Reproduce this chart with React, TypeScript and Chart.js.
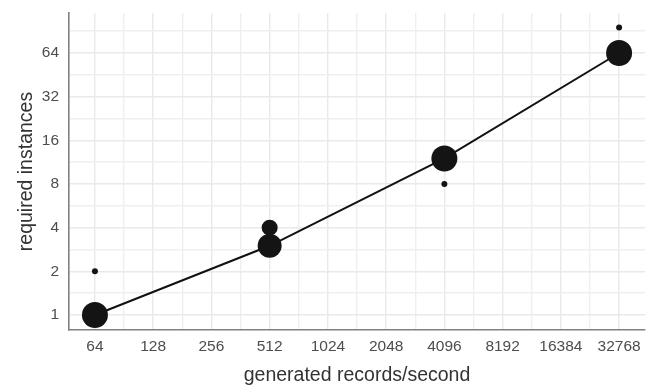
import React, { useEffect, useRef } from "react";
import { Chart, registerables } from "chart.js";

Chart.register(...registerables);

const xRates = [64, 64, 512, 512, 4096, 4096, 32768, 32768];
const yInstances = [1, 2, 3, 4, 12, 8, 64, 96];
const pointSizes = [13, 3, 12, 8, 13, 3, 13, 3];

const lineRates = [64, 512, 4096, 32768];
const lineInstances = [1, 3, 12, 64];

const xTickLabels = [64, 128, 256, 512, 1024, 2048, 4096, 8192, 16384, 32768];
const yTickLabels = [1, 2, 4, 8, 16, 32, 64];

const X_MIN = 47;
const X_MAX = 44600;
const Y_MIN = 0.788;
const Y_MAX = 120.8;

function buildTicks(majors: number[], min: number, max: number) {
  const out: { value: number; major: boolean }[] = [];
  const first = majors[0] / 2;
  for (let k = 0; k <= (majors.length + 2) * 2; k++) {
    const v = first * Math.pow(2, k / 2);
    if (v < min || v > max) continue;
    out.push({ value: v, major: k % 2 === 0 });
  }
  return out;
}

const isMajor = (v: number) => Math.abs(Math.log2(v) - Math.round(Math.log2(v))) < 1e-6;

export default function App() {
  const ref = useRef<HTMLCanvasElement | null>(null);
  useEffect(() => {
    document.body.style.margin = "0";
    const ctx = ref.current!.getContext("2d")!;
    const font = "'Liberation Sans', Arial, sans-serif";
    const gridColor = (c: any) => (c.tick && isMajor(c.tick.value) ? "#e9e9e9" : "#efefef");
    const chart = new Chart(ctx, {
      type: "bubble",
      data: {
        datasets: [
          {
            type: "line",
            data: lineRates.map((x, i) => ({ x, y: lineInstances[i] })),
            borderColor: "#111111",
            borderWidth: 2,
            pointRadius: 0,
            fill: false,
            clip: false,
            order: 2,
          } as any,
          {
            type: "bubble",
            data: xRates.map((x, i) => ({ x, y: yInstances[i], r: pointSizes[i] })),
            backgroundColor: "#141414",
            borderColor: "#141414",
            borderWidth: 0,
            clip: false,
            order: 1,
          },
        ],
      },
      options: {
        animation: false,
        responsive: false,
        maintainAspectRatio: false,
        layout: { autoPadding: false, padding: { top: 13, right: 4, left: 0, bottom: 0 } },
        plugins: { legend: { display: false }, tooltip: { enabled: false } },
        scales: {
          x: {
            type: "logarithmic",
            min: X_MIN,
            max: X_MAX,
            afterBuildTicks: (s: any) => {
              s.ticks = buildTicks(xTickLabels, X_MIN, X_MAX);
            },
            afterFit: (s: any) => {
              s.height = 59;
              s.paddingLeft = 0;
              s.paddingRight = 0;
            },
            ticks: {
              autoSkip: false,
              maxRotation: 0,
              color: "#4d4d4d",
              font: { family: font, size: 15.5 },
              padding: 7,
              callback: (v: any) => (isMajor(Number(v)) ? String(Math.round(Number(v))) : ""),
            },
            grid: { color: gridColor, lineWidth: 1.4, drawTicks: false },
            border: { display: true, color: "#808080", width: 1.6 },
            title: {
              display: true,
              text: "generated records/second",
              color: "#333333",
              font: { family: font, size: 19.5 },
              padding: { top: 0, bottom: 2 },
            },
          },
          y: {
            type: "logarithmic",
            min: Y_MIN,
            max: Y_MAX,
            afterBuildTicks: (s: any) => {
              s.ticks = buildTicks(yTickLabels, Y_MIN, Y_MAX);
            },
            afterFit: (s: any) => {
              s.width = 69;
              s.paddingTop = 0;
              s.paddingBottom = 0;
            },
            ticks: {
              autoSkip: false,
              color: "#4d4d4d",
              font: { family: font, size: 15.5 },
              padding: 10,
              callback: (v: any) => (isMajor(Number(v)) ? String(Math.round(Number(v))) : ""),
            },
            grid: { color: gridColor, lineWidth: 1.4, drawTicks: false },
            border: { display: true, color: "#808080", width: 1.6 },
            title: {
              display: true,
              text: "required instances",
              color: "#333333",
              font: { family: font, size: 19.5 },
              padding: { top: 14.5, bottom: 0 },
            },
          },
        },
      } as any,
    });
    return () => chart.destroy();
  }, []);
  return <canvas ref={ref} width={649} height={389} style={{ display: "block" }} />;
}
